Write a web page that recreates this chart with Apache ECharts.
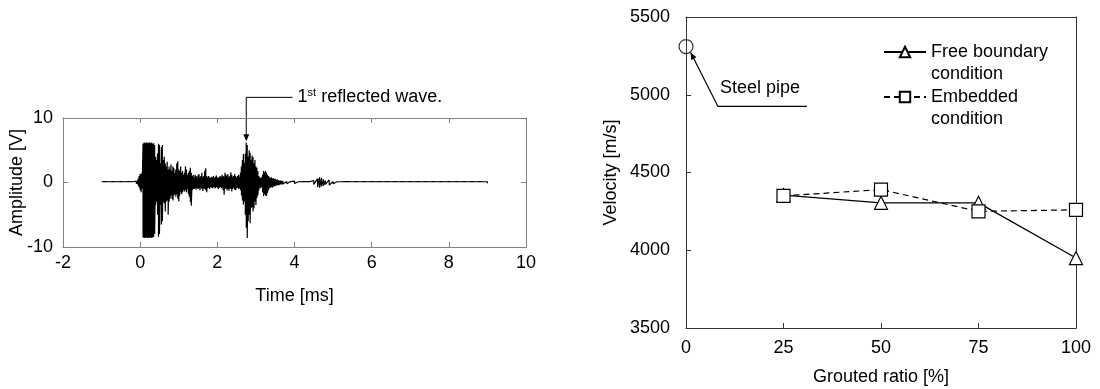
<!DOCTYPE html>
<html>
<head>
<meta charset="utf-8">
<script src="https://cdn.jsdelivr.net/npm/echarts@6/dist/echarts.min.js"></script>
<style>
html, body { margin: 0; padding: 0; background: #fff; }
#main { width: 1100px; height: 389px; }
</style>
</head>
<body>
<div id="main"></div>
<script>
// waveform envelope: [time ms, upper V, lower V]
const waveEnvelope = [
  [-1.0, 0.12, -0.12], [-0.9, 0.15, -0.12], [-0.8, 0.12, -0.15], [-0.7, 0.15, -0.12],
  [-0.6, 0.12, -0.12], [-0.5, 0.15, -0.15], [-0.4, 0.12, -0.12], [-0.3, 0.15, -0.12],
  [-0.2, 0.12, -0.15],
  [-0.100, 0.2, -0.2], [-0.075, 0.2, -0.2], [-0.050, 0.6, -0.5], [-0.025, 1.0, -0.8],
  [0.000, 1.3, -1.2], [0.025, 1.4, -1.5], [0.050, 1.2, -1.0], [0.075, 6.0, -8.5],
  [0.100, 6.2, -8.6], [0.125, 6.1, -8.6], [0.150, 6.2, -8.5], [0.175, 6.2, -8.6],
  [0.200, 6.1, -8.6], [0.225, 6.2, -8.5], [0.250, 6.2, -8.6], [0.275, 6.1, -8.5],
  [0.300, 6.2, -8.6], [0.325, 6.0, -8.5], [0.350, 6.1, -8.4], [0.375, 5.8, -8.0],
  [0.400, 4.0, -3.5], [0.425, 3.5, -3.0], [0.450, 4.5, -5.0], [0.475, 6.0, -8.4],
  [0.500, 5.8, -8.0], [0.525, 3.0, -3.5], [0.550, 5.5, -6.5], [0.575, 5.8, -6.0],
  [0.600, 3.5, -3.0], [0.625, 4.0, -3.2], [0.650, 3.0, -4.5], [0.675, 2.5, -3.0],
  [0.700, 3.2, -2.8], [0.725, 2.0, -5.0], [0.750, 2.5, -3.0], [0.775, 2.0, -2.5],
  [0.800, 2.8, -2.0], [0.825, 1.8, -2.5], [0.850, 2.5, -2.8], [0.875, 2.2, -2.0],
  [0.900, 1.5, -1.8], [0.925, 2.0, -2.2], [0.950, 3.0, -1.8], [0.975, 3.3, -2.5],
  [1.000, 2.0, -2.9], [1.025, 1.8, -2.0], [1.050, 2.5, -1.5], [1.075, 1.5, -1.8],
  [1.100, 1.8, -1.5], [1.125, 1.2, -1.2], [1.150, 1.5, -1.4], [1.175, 2.5, -1.2],
  [1.200, 2.0, -1.5], [1.225, 1.2, -1.0], [1.250, 1.5, -1.8], [1.275, 1.8, -2.2],
  [1.300, 2.3, -3.0], [1.325, 1.5, -3.6], [1.350, 1.0, -1.2], [1.375, 1.2, -1.0],
  [1.400, 0.8, -1.0], [1.425, 1.2, -0.9], [1.450, 1.0, -1.1], [1.475, 0.8, -0.8],
  [1.500, 1.1, -1.0], [1.525, 1.3, -0.9], [1.550, 0.9, -1.2], [1.575, 1.0, -0.8],
  [1.600, 1.5, -1.0], [1.625, 0.9, -1.3], [1.650, 1.0, -0.9], [1.675, 1.8, -1.0],
  [1.700, 2.2, -1.2], [1.725, 1.0, -1.5], [1.750, 0.8, -0.9], [1.775, 1.0, -0.8],
  [1.800, 0.8, -1.0], [1.825, 0.7, -0.7], [1.850, 0.9, -0.8], [1.875, 0.8, -0.9],
  [1.900, 1.0, -0.7], [1.925, 0.7, -0.8], [1.950, 0.9, -0.9], [1.975, 1.1, -0.7],
  [2.000, 0.8, -0.8], [2.025, 0.7, -1.0], [2.050, 0.9, -0.8], [2.075, 1.0, -0.7],
  [2.100, 0.8, -0.9], [2.125, 1.2, -0.8], [2.150, 1.0, -1.2], [2.175, 0.9, -1.9],
  [2.200, 1.5, -1.0], [2.225, 1.2, -0.9], [2.250, 1.0, -1.2], [2.275, 1.3, -1.0],
  [2.300, 0.8, -1.3], [2.325, 1.0, -0.9], [2.350, 1.6, -1.0], [2.375, 1.2, -1.4],
  [2.400, 0.9, -1.0], [2.425, 1.0, -0.8], [2.450, 1.3, -1.1], [2.475, 1.0, -1.2],
  [2.500, 0.8, -0.9], [2.525, 1.0, -0.8], [2.550, 1.2, -1.0], [2.575, 0.9, -0.9],
  [2.600, 1.5, -1.2], [2.625, 2.5, -2.0], [2.650, 3.5, -2.8], [2.675, 4.4, -3.4],
  [2.700, 3.0, -3.0], [2.725, 4.5, -5.0], [2.750, 6.2, -7.0], [2.775, 5.8, -8.6],
  [2.800, 4.0, -6.0], [2.825, 5.0, -5.0], [2.850, 4.6, -6.3], [2.875, 3.5, -4.0],
  [2.900, 4.2, -3.8], [2.925, 3.9, -4.5], [2.950, 3.0, -4.0], [2.975, 3.5, -3.0],
  [3.000, 2.5, -3.5], [3.025, 2.3, -2.4], [3.050, 1.8, -2.0], [3.075, 1.0, -1.2],
  [3.100, 0.8, -0.8], [3.125, 0.7, -0.9], [3.150, 0.8, -0.7], [3.175, 1.2, -1.5],
  [3.200, 1.8, -2.1], [3.225, 1.6, -1.8], [3.250, 1.8, -2.0], [3.275, 1.5, -2.1],
  [3.300, 1.2, -1.6], [3.325, 1.0, -1.2], [3.350, 0.8, -0.9], [3.375, 0.7, -0.8],
  [3.400, 0.8, -0.7], [3.425, 0.6, -0.8], [3.450, 0.7, -0.6], [3.475, 0.5, -0.6],
  [3.500, 0.6, -0.5], [3.525, 0.4, -0.5], [3.550, 0.5, -0.4], [3.575, 0.4, -0.4],
  [3.600, 0.3, -0.4], [3.625, 0.3, -0.3], [3.650, 0.3, -0.3], [3.675, 0.2, -0.3],
  [3.700, 0.25, -0.25],
  [3.8, 0.15, -0.2], [3.9, 0.15, -0.15], [4.0, 0.2, -0.15], [4.1, 0.12, -0.15],
  [4.2, 0.15, -0.15], [4.3, 0.15, -0.12], [4.4, 0.15, -0.15], [4.5, 0.3, -0.3],
  [4.6, 0.6, -0.7], [4.65, 0.8, -0.8], [4.7, 0.7, -0.6], [4.75, 0.5, -0.5],
  [4.8, 0.3, -0.3], [4.9, 0.4, -0.4], [5.0, 0.15, -0.2], [5.1, 0.12, -0.15],
  [5.2, 0.12, -0.15], [5.3, 0.15, -0.12], [5.4, 0.15, -0.15], [5.5, 0.12, -0.12],
  [5.6, 0.15, -0.15], [5.7, 0.12, -0.15], [5.8, 0.15, -0.12], [5.9, 0.12, -0.12],
  [6.0, 0.15, -0.15], [6.1, 0.12, -0.12], [6.2, 0.15, -0.15], [6.3, 0.12, -0.15],
  [6.4, 0.15, -0.12], [6.5, 0.12, -0.12], [6.6, 0.15, -0.15], [6.7, 0.12, -0.12],
  [6.8, 0.15, -0.15], [6.9, 0.12, -0.15], [7.0, 0.15, -0.12], [7.1, 0.12, -0.12],
  [7.2, 0.15, -0.15], [7.3, 0.12, -0.12], [7.4, 0.15, -0.15], [7.5, 0.12, -0.15],
  [7.6, 0.15, -0.12], [7.7, 0.12, -0.12], [7.8, 0.15, -0.15], [7.9, 0.12, -0.12],
  [8.0, 0.15, -0.15], [8.1, 0.12, -0.15], [8.2, 0.15, -0.12], [8.3, 0.12, -0.12],
  [8.4, 0.15, -0.15], [8.5, 0.12, -0.12], [8.6, 0.15, -0.15], [8.7, 0.12, -0.15],
  [8.8, 0.15, -0.12], [8.9, 0.12, -0.12], [9.0, 0.12, -0.12]
];

const timeAxis = { min: -2, max: 10, interval: 2 };
const ampAxis = { min: -10, max: 10, interval: 10 };
const ratioAxis = { min: 0, max: 100, interval: 25 };
const velAxis = { min: 3500, max: 5500, interval: 500 };

const groutRatio = [25, 50, 75, 100];
const freeBoundary = [4355, 4305, 4305, 3950];
const embedded = [4350, 4390, 4250, 4260];
const steelPipe = [[0, 5310]];

const font = 'Liberation Sans, Arial, sans-serif';
const fs = 18;

const chart = echarts.init(document.getElementById('main'));

function ax(color, extra) {
    return Object.assign({
        type: 'value',
        nameMoveOverlap: false,
        axisLine: { show: true, onZero: false, lineStyle: { color: color, width: 1 } },
        axisTick: { show: true, inside: true, length: 5, lineStyle: { color: color } },
        splitLine: { show: false },
        axisLabel: { color: '#000', fontSize: fs, fontFamily: font },
        nameTextStyle: { color: '#000', fontSize: fs, fontFamily: font }
    }, extra);
}
const noLabel = { show: false };
const label = (margin) => ({ color: '#000', fontSize: fs, fontFamily: font, margin: margin, formatter: v => String(v) });

const wavePoints = [];
waveEnvelope.forEach(r => {
    wavePoints.push([r[0], r[1]]);
    wavePoints.push([r[0], r[2]]);
});

chart.setOption({
    animation: false,
    grid: [
        { left: 63, right: 574, top: 118, bottom: 142, outerBoundsMode: 'none' },
        { left: 686, right: 24, top: 17, bottom: 61, outerBoundsMode: 'none' }
    ],
    xAxis: [
        ax('#808080', Object.assign({ gridIndex: 0, position: 'bottom', name: 'Time [ms]',
            nameLocation: 'middle', nameGap: 40, axisLabel: label(7) }, timeAxis)),
        ax('#808080', Object.assign({ gridIndex: 0, position: 'top', axisLabel: noLabel }, timeAxis)),
        ax('#333', Object.assign({ gridIndex: 1, position: 'bottom', name: 'Grouted ratio [%]',
            nameLocation: 'middle', nameGap: 40, axisLabel: label(11) }, ratioAxis)),
        ax('#333', Object.assign({ gridIndex: 1, position: 'top', axisLabel: noLabel, axisTick: { show: false } }, ratioAxis))
    ],
    yAxis: [
        ax('#808080', Object.assign({ gridIndex: 0, position: 'left', name: 'Amplitude [V]',
            nameLocation: 'middle', nameGap: 37, axisLabel: label(10) }, ampAxis)),
        ax('#808080', Object.assign({ gridIndex: 0, position: 'right', axisLabel: noLabel }, ampAxis)),
        ax('#333', Object.assign({ gridIndex: 1, position: 'left', name: 'Velocity [m/s]',
            nameLocation: 'middle', nameGap: 66, axisLabel: label(16) }, velAxis)),
        ax('#333', Object.assign({ gridIndex: 1, position: 'right', axisLabel: noLabel, axisTick: { show: false } }, velAxis))
    ],
    legend: {
        orient: 'vertical',
        left: 878,
        top: 14,
        itemWidth: 42,
        itemHeight: 13,
        itemGap: -21,
        data: ['Free boundary condition', 'Embedded condition'],
        formatter: name => ' \n' + name.replace(' condition', '\ncondition'),
        textStyle: { color: '#000', fontSize: fs, fontFamily: font, lineHeight: 22 }
    },
    series: [
        {
            type: 'line', xAxisIndex: 0, yAxisIndex: 0,
            data: wavePoints, showSymbol: false, symbol: 'none', sampling: false,
            lineStyle: { color: '#000', width: 1.2 }, silent: true
        },
        {
            name: 'Free boundary condition', type: 'line', xAxisIndex: 2, yAxisIndex: 2,
            data: groutRatio.map((g, i) => [g, freeBoundary[i]]),
            symbol: 'triangle', symbolSize: 13, showAllSymbol: true,
            lineStyle: { color: '#000', width: 1.3, type: 'solid' },
            itemStyle: { color: '#fff', borderColor: '#000', borderWidth: 1.2 }
        },
        {
            name: 'Embedded condition', type: 'line', xAxisIndex: 2, yAxisIndex: 2,
            data: groutRatio.map((g, i) => [g, embedded[i]]),
            symbol: 'rect', symbolSize: 13, showAllSymbol: true,
            lineStyle: { color: '#000', width: 1.2, type: [6, 4] },
            itemStyle: { color: '#fff', borderColor: '#000', borderWidth: 1.2 }
        },
        {
            name: 'Steel pipe', type: 'scatter', xAxisIndex: 2, yAxisIndex: 2,
            data: steelPipe, symbol: 'circle', symbolSize: 14, clip: false,
            itemStyle: { color: 'rgba(255,255,255,0)', borderColor: '#000', borderWidth: 1.2 }
        }
    ]
});

// annotations anchored to data coordinates
function px(seriesIndex, pt) { return chart.convertToPixel({ seriesIndex: seriesIndex }, pt); }
function arrowHead(from, tip, len, half) {
    const dx = tip[0] - from[0], dy = tip[1] - from[1];
    const d = Math.sqrt(dx * dx + dy * dy);
    const ux = dx / d, uy = dy / d;
    const bx = tip[0] - ux * len, by = tip[1] - uy * len;
    return [tip, [bx - uy * half, by + ux * half], [bx + uy * half, by - ux * half]];
}

const rTip = px(0, [2.75, 6.4]);
const rElbow = px(0, [2.75, 13.2]);
const rEnd = px(0, [3.95, 13.2]);
const sTip = px(1, [1.2, 5272]);
const sElbow = px(1, [8.2, 4925]);
const sEnd = px(1, [31, 4925]);
const sText = px(1, [8.7, 5040]);

chart.setOption({
    graphic: [
        { type: 'polyline', shape: { points: [rEnd, rElbow, [rTip[0], rTip[1] - 5]] }, style: { stroke: '#000', lineWidth: 1, fill: null } },
        { type: 'polygon', shape: { points: arrowHead(rElbow, rTip, 7, 3) }, style: { fill: '#000' } },
        {
            type: 'text', x: rEnd[0] + 5, y: rEnd[1],
            style: {
                text: '{n|1}{s|st}{n| reflected wave.}',
                verticalAlign: 'middle',
                rich: {
                    n: { fontSize: fs, fontFamily: font, fill: '#000' },
                    s: { fontSize: 11, fontFamily: font, fill: '#000', verticalAlign: 'top', padding: [0, 0, 8, 0] }
                }
            }
        },
        { type: 'polyline', shape: { points: [sEnd, sElbow, sTip] }, style: { stroke: '#000', lineWidth: 1.2, fill: null } },
        { type: 'polygon', shape: { points: arrowHead(sElbow, sTip, 7, 3) }, style: { fill: '#000' } },
        {
            type: 'text', x: sText[0], y: sText[1],
            style: { text: 'Steel pipe', fontSize: fs, fontFamily: font, fill: '#000', verticalAlign: 'middle' }
        }
    ]
});
</script>
</body>
</html>
